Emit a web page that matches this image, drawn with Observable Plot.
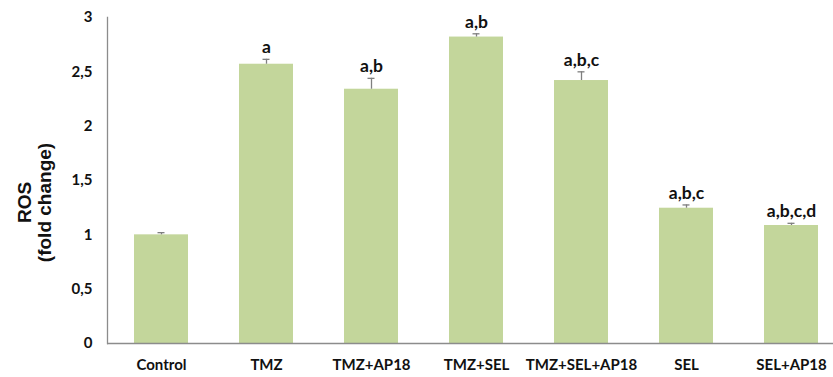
<!DOCTYPE html>
<html>
<head>
<meta charset="utf-8">
<script src="https://cdn.jsdelivr.net/npm/d3@7"></script>
<script src="https://cdn.jsdelivr.net/npm/@observablehq/plot@0.6"></script>
<style>
  html, body { margin: 0; padding: 0; background: #fff; }
  #chart svg { display: block; }
</style>
</head>
<body>
<div id="chart"></div>
<script>
// Treatment groups along the x axis
const groups = ["Control", "TMZ", "TMZ+AP18", "TMZ+SEL", "TMZ+SEL+AP18", "SEL", "SEL+AP18"];
// ROS level, fold change relative to control
const ros = [1.00, 2.57, 2.34, 2.82, 2.42, 1.245, 1.086];
// Upper error (SEM)
const sem = [0.02, 0.045, 0.10, 0.03, 0.08, 0.03, 0.02];
// Significance letters above each bar
const letters = ["", "a", "a,b", "a,b", "a,b,c", "a,b,c", "a,b,c,d"];
// Y axis ticks
const yTicks = [0, 0.5, 1, 1.5, 2, 2.5, 3];

const rows = groups.map((g, i) => ({group: g, value: ros[i], err: sem[i], top: ros[i] + sem[i], label: letters[i]}));

const commaDecimal = d => String(d).replace(".", ",");
const font = "Lato, 'Open Sans', sans-serif";
const titleFont = "'Liberation Sans', Arial, sans-serif";

const chart = Plot.plot({
  width: 833,
  height: 377,
  marginLeft: 107,
  marginRight: 0,
  marginTop: 17,
  marginBottom: 34,
  style: {fontFamily: font, background: "#fff", overflow: "visible"},
  x: {domain: groups, range: [107, 845], paddingInner: 0.49, paddingOuter: 0.245, align: 0.5},
  y: {domain: [0, 3]},
  marks: [
    Plot.barY(rows, {x: "group", y: "value", fill: "#c3d69b"}),
    // upper error bars with a short cap
    Plot.ruleX(rows, {x: "group", y1: "value", y2: "top", stroke: "#7f7f7f", strokeWidth: 1.3}),
    Plot.tickY(rows, {x: "group", y: "top", stroke: "#7f7f7f", strokeWidth: 1.3, insetLeft: 23.5, insetRight: 23.5}),
    // significance letters
    Plot.text(rows, {x: "group", y: "top", text: "label", lineAnchor: "bottom", dy: -6,
      fontSize: 17.5, fontWeight: "bold", fill: "#111"}),
    // axis lines
    Plot.ruleY([0], {stroke: "#8c8c8c", strokeWidth: 1.3}),
    Plot.frame({anchor: "left", stroke: "#8c8c8c", strokeWidth: 1.3}),
    Plot.axisY({ticks: yTicks, tickFormat: commaDecimal, tickSize: 0, tickPadding: 15,
      label: null, fontSize: 15, fontWeight: "bold", fill: "#111"}),
    Plot.axisX({tickSize: 0, tickPadding: 16, label: null, fontSize: 15, fontWeight: "bold", fill: "#111"}),
    // two-line y axis title
    Plot.text(["ROS"], {frameAnchor: "left", textAnchor: "middle", rotate: -90, dx: -83, dy: 22,
      fontFamily: titleFont, fontSize: 19, fontWeight: "bold", fill: "#111"}),
    Plot.text(["(fold change)"], {frameAnchor: "left", textAnchor: "middle", rotate: -90, dx: -63, dy: 22,
      fontFamily: titleFont, fontSize: 19, fontWeight: "bold", fill: "#111"})
  ]
});

document.getElementById("chart").appendChild(chart);
</script>
</body>
</html>
